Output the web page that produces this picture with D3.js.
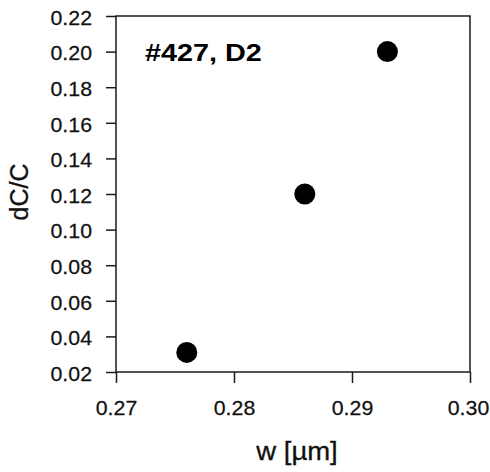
<!DOCTYPE html>
<html>
<head>
<meta charset="utf-8">
<script src="https://cdn.jsdelivr.net/npm/d3@7"></script>
<style>
  html, body { margin: 0; padding: 0; background: #fff; }
  svg { display: block; font-family: "Liberation Sans", Arial, Helvetica, sans-serif; }
</style>
</head>
<body>
<script>
// data
const widths = [0.276, 0.286, 0.293];      // w [µm]
const dcc = [0.031, 0.120, 0.200];         // dC/C
const xTicks = [0.27, 0.28, 0.29, 0.30];
const yTicks = [0.02, 0.04, 0.06, 0.08, 0.10, 0.12, 0.14, 0.16, 0.18, 0.20, 0.22];
const label = '#427, D2';

const W = 490, H = 472;
const box = { left: 116, top: 16, right: 470, bottom: 372 };
const tickStretch = 1.04; // scan is a touch wider than tall

const svg = d3.select('body').append('svg')
  .attr('width', W)
  .attr('height', H);

const x = d3.scaleLinear().domain([0.27, 0.30]).range([box.left, box.right]);
const y = d3.scaleLinear().domain([0.02, 0.22]).range([box.bottom, box.top]);

/* y axis */
const yAxis = d3.axisLeft(y)
  .tickValues(yTicks)
  .tickSize(10)
  .tickFormat(d3.format('.2f'));

const gy = svg.append('g')
  .attr('transform', `translate(${box.left},0)`)
  .call(yAxis);
gy.select('.domain').remove();
gy.selectAll('line').attr('stroke', '#1a1a1a').attr('stroke-width', 1.5);
gy.selectAll('text')
  .attr('x', 0)
  .attr('dy', '0.4em')
  .attr('transform', `translate(-24,0) scale(${tickStretch},1)`)
  .attr('font-size', 20.5)
  .attr('fill', '#111')
  .attr('stroke', '#111')
  .attr('stroke-width', 0.25)
  .attr('font-family', null);

/* x axis */
const xAxis = d3.axisBottom(x)
  .tickValues(xTicks)
  .tickSize(11)
  .tickFormat(d3.format('.2f'));

const gx = svg.append('g')
  .attr('transform', `translate(0,${box.bottom})`)
  .call(xAxis);
gx.select('.domain').remove();
gx.selectAll('line').attr('stroke', '#1a1a1a').attr('stroke-width', 1.5);
gx.selectAll('text')
  .attr('y', 0)
  .attr('dy', 0)
  .attr('transform', d => `translate(${d === 0.30 ? -2 : 0},43) scale(${tickStretch},1)`)
  .attr('font-size', 20.5)
  .attr('fill', '#111')
  .attr('stroke', '#111')
  .attr('stroke-width', 0.25)
  .attr('font-family', null);

/* frame */
svg.append('rect')
  .attr('x', box.left)
  .attr('y', box.top)
  .attr('width', box.right - box.left)
  .attr('height', box.bottom - box.top)
  .attr('fill', 'none')
  .attr('stroke', '#1a1a1a')
  .attr('stroke-width', 1.5);

/* points */
svg.append('g')
  .selectAll('circle')
  .data(widths.map((w, i) => ({ w, v: dcc[i] })))
  .enter().append('circle')
  .attr('cx', d => x(d.w))
  .attr('cy', d => y(d.v))
  .attr('r', 10.5)
  .attr('fill', '#000');

/* labels */
svg.append('text')
  .attr('transform', `translate(145,61) scale(1.2,1)`)
  .attr('font-size', 24)
  .attr('font-weight', 'bold')
  .attr('fill', '#000')
  .text(label);

svg.append('text')
  .attr('transform', `translate(28,192) rotate(-90)`)
  .attr('text-anchor', 'middle')
  .attr('font-size', 25)
  .attr('fill', '#111')
  .attr('stroke', '#111')
  .attr('stroke-width', 0.3)
  .text('dC/C');

svg.append('text')
  .attr('transform', `translate(297,460) scale(1.1,1)`)
  .attr('text-anchor', 'middle')
  .attr('font-size', 25)
  .attr('fill', '#111')
  .attr('stroke', '#111')
  .attr('stroke-width', 0.3)
  .text('w [µm]');
</script>
</body>
</html>
